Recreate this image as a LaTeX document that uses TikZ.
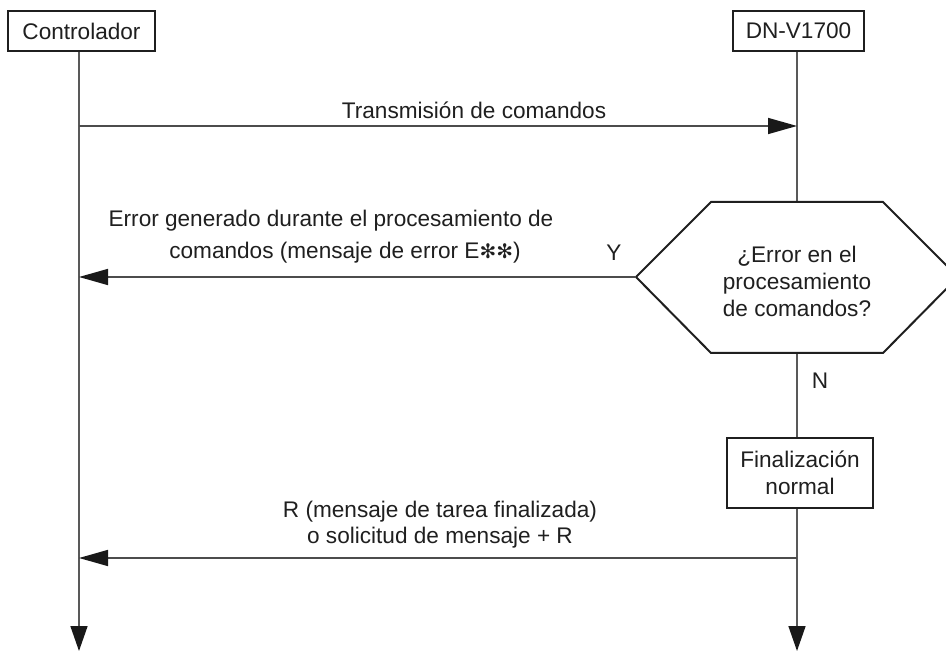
\documentclass[tikz,border=0pt]{standalone}
\usepackage{fontspec}
\setmainfont{Liberation Sans}
\newfontfamily\dejavu{DejaVu Sans}
\usetikzlibrary{arrows.meta}
\begin{document}
\begin{tikzpicture}[x=0.5pt,y=-0.5pt,
  font=\fontsize{11.3pt}{13.5pt}\selectfont,
  txt/.style={inner sep=0pt,align=center,text=black!88},
  box/.style={draw=black!88,line width=1pt,fill=white,inner sep=0pt,align=center,text=black!88},
  life/.style={draw=black!65,line width=0.8pt},
  tip/.style={-{Triangle[length=12.5pt,width=8.5pt,color=black!90]}},
  msg/.style={draw=black!70,line width=0.8pt,-{Triangle[length=14.5pt,width=8pt,color=black!90]}},
]
\useasboundingbox (0,0) rectangle (946,651);
% header boxes
\node[box,minimum width=73.5pt,minimum height=20pt] (ctrl) at (81.5,31) {Controlador};
\node[box,minimum width=65.5pt,minimum height=20pt] (dn) at (798.5,31) {DN-V1700};
% lifeline coordinates
\coordinate (cEnd) at (79,651);
\coordinate (dEnd) at (797,651);
\coordinate (cT) at (79,126);
\coordinate (dT) at (797,126);
\coordinate (cErr) at (79,277);
\coordinate (cR) at (79,558);
\coordinate (dR) at (797,558);
% hexagon
\coordinate (hW) at (636,277);
\coordinate (hNW) at (711,202);
\coordinate (hNE) at (883,202);
\coordinate (hE) at (958,277);
\coordinate (hSE) at (883,353);
\coordinate (hSW) at (711,353);
\coordinate (hN) at (797,202);
\coordinate (hS) at (797,353);
% finish box
\node[box,minimum width=73pt,minimum height=35pt] (fin) at (800,473) {Finalización\\normal};
% lifelines
\draw[life,tip] (ctrl.south -| cEnd) -- (cEnd);
\draw[life] (dn.south -| hN) -- (hN);
\draw[life] (hS) -- (fin.north -| hS);
\draw[life,tip] (fin.south -| hS) -- (dEnd);
% decision
\draw[draw=black!88,line width=1pt,fill=white] (hW) -- (hNW) -- (hNE) -- (hE) -- (hSE) -- (hSW) -- cycle;
\node[txt] (dec) at (797,281) {¿Error en el\\procesamiento\\de comandos?};
% messages
\draw[msg] (cT) -- (dT);
\node[txt] (lT) at (474,110) {Transmisión de comandos};
\draw[msg] (hW) -- (cErr);
\node[txt,font=\fontsize{11.3pt}{16pt}\selectfont] (lErr) at (331,237) {Error generado durante el procesamiento de\\\hspace*{14pt}comandos (mensaje de error E{\dejavu\fontsize{10pt}{10pt}\selectfont ✻✻})};
\node[txt] (lY) at (614,253) {Y};
\node[txt] (lN) at (820,381) {N};
\draw[msg] (dR) -- (cR);
\node[txt,font=\fontsize{11.3pt}{13pt}\selectfont] (lR) at (440,525) {R (mensaje de tarea finalizada)\\o solicitud de mensaje + R};
\end{tikzpicture}
\end{document}
